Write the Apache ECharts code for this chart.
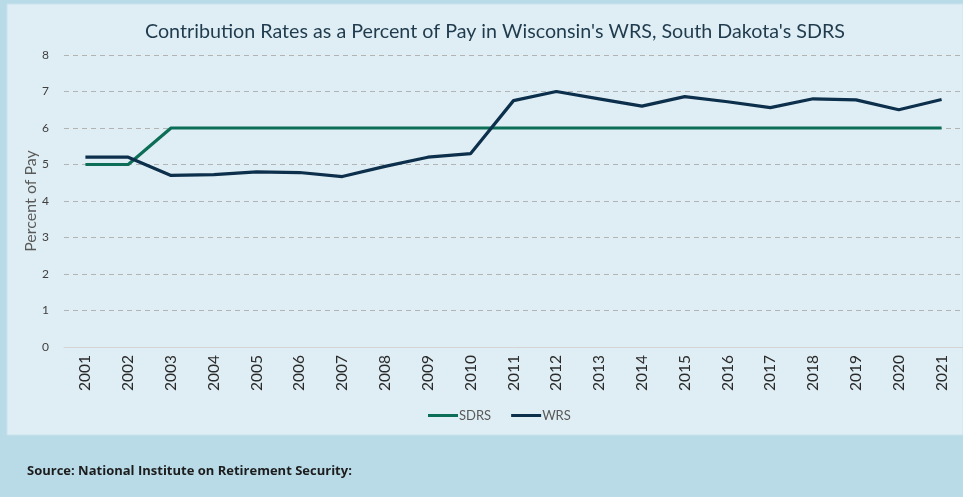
<!DOCTYPE html>
<html>
<head>
<meta charset="utf-8">
<script src="https://cdn.jsdelivr.net/npm/echarts@6/dist/echarts.min.js"></script>
<style>
  html, body { margin: 0; padding: 0; background: #b9dbe8; }
  #chart { width: 963px; height: 497px; }
</style>
</head>
<body>
<div id="chart"></div>
<script>
const years = ['2001','2002','2003','2004','2005','2006','2007','2008','2009','2010','2011',
  '2012','2013','2014','2015','2016','2017','2018','2019','2020','2021'];
const sdrs = [5, 5, 6, 6, 6, 6, 6, 6, 6, 6, 6, 6, 6, 6, 6, 6, 6, 6, 6, 6, 6];
const wrs = [5.2, 5.2, 4.7, 4.72, 4.8, 4.78, 4.67, 4.95, 5.2, 5.3, 6.75,
  7.0, 6.8, 6.6, 6.86, 6.72, 6.56, 6.8, 6.77, 6.5, 6.78];
const yTicks = [0, 1, 2, 3, 4, 5, 6, 7, 8];

const chart = echarts.init(document.getElementById('chart'));
const font = 'Lato, "Open Sans", sans-serif';

const option = {
  backgroundColor: '#b9dbe8',
  textStyle: { fontFamily: font },
  graphic: [
    // light panel behind the chart
    { type: 'rect', z: -10, shape: { x: 7, y: 4, width: 956, height: 431 },
      style: { fill: '#dfeef4', stroke: '#c8e2ec', lineWidth: 1 } },
    { type: 'text', left: 27, top: 465,
      style: { text: 'Source: National Institute on Retirement Security:', fill: '#1c1c1c',
        font: 'bold 13px "Open Sans", sans-serif' } }
  ],
  title: {
    text: "Contribution Rates as a Percent of Pay in Wisconsin's WRS, South Dakota's SDRS",
    left: 140,
    top: 17,
    textStyle: { color: '#1f3b4d', fontSize: 19.7, fontWeight: 'normal', fontFamily: font }
  },
  legend: {
    bottom: 70,
    left: 423,
    itemWidth: 30,
    itemHeight: 3,
    itemGap: 20,
    icon: 'rect',
    textStyle: { color: '#595959', fontSize: 13, padding: [0, 0, 0, -4] },
    data: ['SDRS', 'WRS']
  },
  grid: { left: 64, right: 0, top: 55, bottom: 150 },
  xAxis: {
    type: 'category',
    data: years,
    boundaryGap: true,
    axisLine: { lineStyle: { color: '#d4d4d4' } },
    axisTick: { show: false },
    axisLabel: { rotate: 90, color: '#2b2b2b', fontSize: 15.5, margin: 8 }
  },
  yAxis: {
    type: 'value',
    min: 0,
    max: 8,
    interval: 1,
    name: 'Percent of Pay',
    nameLocation: 'middle',
    nameGap: 25,
    nameMoveOverlap: false,
    nameTextStyle: { color: '#595959', fontSize: 16 },
    axisLabel: { color: '#404040', fontSize: 12, margin: 15,
      formatter: v => yTicks.includes(v) ? String(v) : '' },
    splitLine: { lineStyle: { color: '#b3b3b3', type: [5, 4], width: 1 } }
  },
  series: [
    { name: 'SDRS', type: 'line', data: sdrs, symbol: 'none',
      lineStyle: { color: '#0d6e57', width: 3.2 }, itemStyle: { color: '#0d6e57' } },
    { name: 'WRS', type: 'line', data: wrs, symbol: 'none',
      lineStyle: { color: '#0c2f4c', width: 3.2 }, itemStyle: { color: '#0c2f4c' } }
  ]
};
chart.setOption(option);
window.addEventListener('resize', () => chart.resize(), false);
</script>
</body>
</html>
